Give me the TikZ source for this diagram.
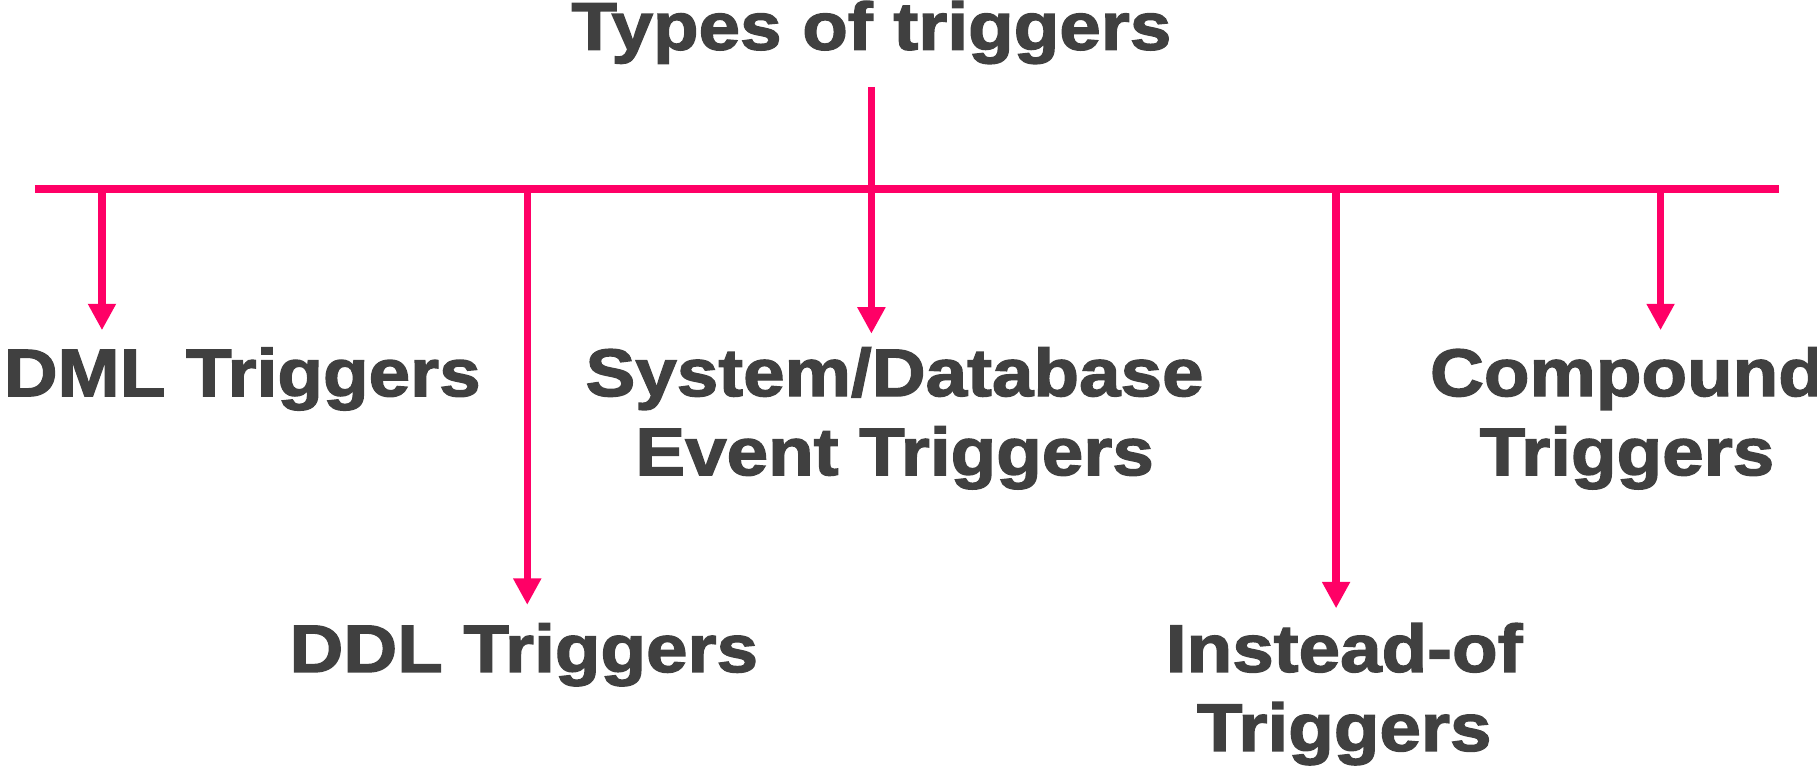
\documentclass[tikz,border=0pt]{standalone}
\usepackage{fontspec}
\setmainfont{Liberation Sans}[FakeStretch=1.11, FakeBold=2]
\usetikzlibrary{arrows.meta,positioning}
\definecolor{trigpink}{RGB}{255, 0, 102}
\definecolor{trigtext}{RGB}{64, 64, 64}
\tikzstyle{arrow} = [
  -{Triangle[width=6.5pt,length=6.5pt]},
  line width=1.8pt,
  trigpink,
]
\begin{document}
\begin{tikzpicture}[x=0.01cm, y=-0.01cm,
    label/.style={text=trigtext, font=\fontsize{16.5}{19.4}\selectfont\bfseries,
                  align=center, inner sep=0pt}]
  \useasboundingbox (0,0) rectangle (1568,664);

  \node [label] (title) at (752,28) {Types of triggers};

  % bar and its stem
  \coordinate (stem) at (752,75);
  \coordinate (barl) at (30,163);
  \coordinate (barr) at (1535,163);
  \draw [trigpink, line width=1.8pt] (barl) -- (barr);
  \draw [trigpink, line width=1.8pt] (stem) -- (752,163);

  % labels
  \node [label] (dml) at (209,327) {DML Triggers};
  \node [label] (ddl) at (452,565) {DDL Triggers};
  \node [label] (sys) at (772,361) {System/Database\\Event Triggers};
  \node [label] (inst) at (1160,599) {Instead-of\\Triggers};
  \node [label] (comp) at (1404,361) {Compound\\Triggers};

  % arrows down from the bar
  \foreach \x/\tip in {88/285, 455/522, 752/288, 1153/525, 1433/285}
    \draw [arrow] (\x,163) -- (\x,\tip);
\end{tikzpicture}
\end{document}
